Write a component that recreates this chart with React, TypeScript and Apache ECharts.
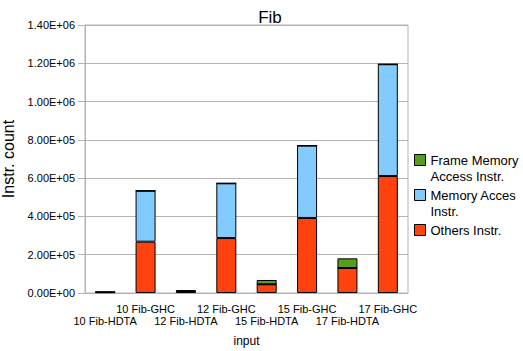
import React, { useEffect, useRef } from "react";
import * as echarts from "echarts";

const categories = [
  "10 Fib-HDTA", "10 Fib-GHC", "12 Fib-HDTA", "12 Fib-GHC",
  "15 Fib-HDTA", "15 Fib-GHC", "17 Fib-HDTA", "17 Fib-GHC",
];
const othersInstr = [4000, 268000, 9000, 287000, 45500, 392000, 130600, 611000];
const memoryAccesInstr = [0, 266000, 0, 286000, 0, 378000, 0, 584000];
const frameMemoryInstr = [3000, 0, 6000, 0, 22500, 0, 50500, 0];
const legendNames = ["Frame Memory\nAccess Instr.", "Memory Acces\nInstr.", "Others Instr."];

const fmtSci = (v: number) => {
  if (v === 0) return "0.00E+00";
  const e = Math.floor(Math.log10(v));
  const m = v / Math.pow(10, e);
  return m.toFixed(2) + "E+" + String(e).padStart(2, "0");
};

export default function App() {
  const ref = useRef<HTMLDivElement>(null);
  useEffect(() => {
    const chart = echarts.init(ref.current!, null, { renderer: "svg" });
    const font = "Liberation Sans, Arial, sans-serif";
    const barBase = {
      type: "bar" as const,
      stack: "total",
      barWidth: 20,
      itemStyle: { borderColor: "#000", borderWidth: 1 },
    };
    chart.setOption({
      animation: false,
      textStyle: { fontFamily: font },
      title: {
        text: "Fib",
        left: 265,
        top: 4,
        textAlign: "center",
        textStyle: { fontSize: 17, fontWeight: "normal", color: "#000", fontFamily: font },
      },
      grid: {
        left: 85, right: 115, top: 25, bottom: 58,
        outerBoundsMode: "none",
        containLabel: false,
        show: true, borderColor: "#b3b3b3", borderWidth: 1,
      },
      legend: {
        orient: "vertical",
        left: 414,
        top: 136,
        padding: 0,
        itemWidth: 11,
        itemHeight: 11,
        itemGap: -13,
        icon: "rect",
        data: legendNames,
        formatter: (name: string) => "\n" + name + (name.indexOf("\n") < 0 ? "\n" : ""),
        textStyle: { fontSize: 13, color: "#000", lineHeight: 16, fontFamily: font },
        itemStyle: { borderColor: "#000", borderWidth: 1 },
      },
      xAxis: {
        type: "category",
        data: categories,
        name: "input",
        nameLocation: "middle",
        nameGap: 42,
        nameTextStyle: { fontSize: 12, color: "#000" },
        axisLine: { lineStyle: { color: "#b3b3b3" } },
        axisTick: { alignWithLabel: true, length: 5, lineStyle: { color: "#b3b3b3" } },
        axisLabel: {
          interval: 0,
          fontSize: 11,
          color: "#000",
          margin: 10,
          lineHeight: 12,
          formatter: (v: string, i: number) => (i % 2 === 0 ? "\n" + v : v),
        },
      },
      yAxis: {
        type: "value",
        min: 0,
        max: 1400000,
        interval: 200000,
        name: "Instr. count",
        nameLocation: "middle",
        nameGap: 52,
        nameTextStyle: { fontSize: 16, color: "#000" },
        axisLine: { show: true, lineStyle: { color: "#b3b3b3" } },
        axisTick: { show: true, length: 7, lineStyle: { color: "#b3b3b3" } },
        splitLine: { lineStyle: { color: "#b3b3b3" } },
        axisLabel: { fontSize: 11, color: "#000", margin: 10, formatter: fmtSci },
      },
      series: [
        { ...barBase, name: legendNames[2], data: othersInstr, itemStyle: { ...barBase.itemStyle, color: "#ff420e" } },
        { ...barBase, name: legendNames[1], data: memoryAccesInstr, itemStyle: { ...barBase.itemStyle, color: "#83caff" } },
        { ...barBase, name: legendNames[0], data: frameMemoryInstr, itemStyle: { ...barBase.itemStyle, color: "#579d1c" } },
      ],
    });
    return () => chart.dispose();
  }, []);
  return <div ref={ref} style={{ width: 523, height: 351, position: "absolute", left: 0, top: 0 }} />;
}
